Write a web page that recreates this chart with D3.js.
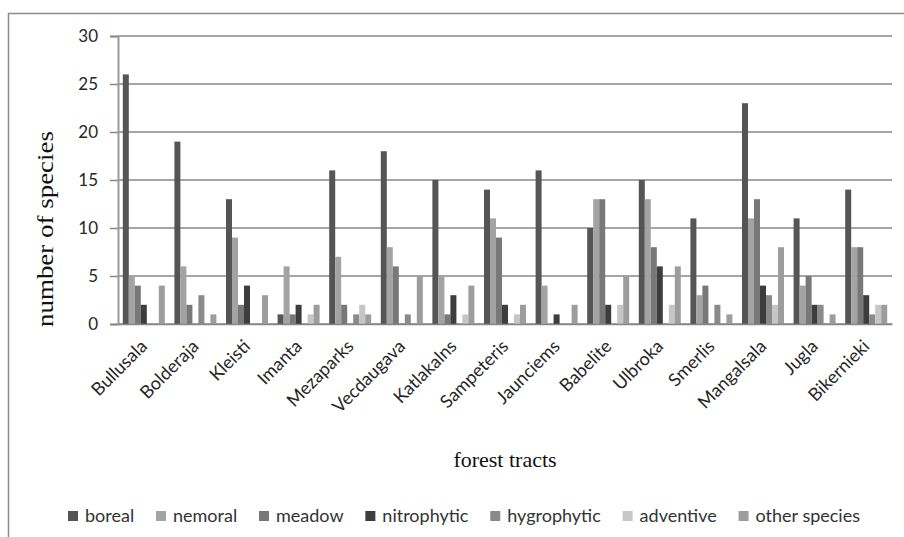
<!DOCTYPE html>
<html lang="en">
<head>
<meta charset="UTF-8">
<title>Species by forest tract</title>
<script src="https://d3js.org/d3.v7.min.js"></script>
<style>
  body { margin: 0; background: #fff; }
  svg { display: block; }
  .tick text { font-family: Lato, sans-serif; fill: #262626; }
</style>
</head>
<body>
<svg width="904" height="537"></svg>
<script>
// data
const tracts = ["Bullusala", "Bolderaja", "Kleisti", "Imanta", "Mezaparks", "Vecdaugava", "Katlakalns",
    "Sampeteris", "Jaunciems", "Babelite", "Ulbroka", "Smerlis", "Mangalsala", "Jugla", "Bikernieki"];
const seriesNames = ["boreal", "nemoral", "meadow", "nitrophytic", "hygrophytic", "adventive", "other species"];
const boreal      = [26, 19, 13, 1, 16, 18, 15, 14, 16, 10, 15, 11, 23, 11, 14];
const nemoral     = [5, 6, 9, 6, 7, 8, 5, 11, 4, 13, 13, 3, 11, 4, 8];
const meadow      = [4, 2, 2, 1, 2, 6, 1, 9, 0, 13, 8, 4, 13, 5, 8];
const nitrophytic = [2, 0, 4, 2, 0, 0, 3, 2, 1, 2, 6, 0, 4, 2, 3];
const hygrophytic = [0, 3, 0, 0, 1, 1, 0, 0, 0, 0, 0, 2, 3, 2, 1];
const adventive   = [0, 0, 0, 1, 2, 0, 1, 1, 0, 2, 2, 0, 2, 0, 2];
const otherSpecies = [4, 1, 3, 2, 1, 5, 4, 2, 2, 5, 6, 1, 8, 1, 2];
const yTicks = [0, 5, 10, 15, 20, 25, 30];

const allValues = [boreal, nemoral, meadow, nitrophytic, hygrophytic, adventive, otherSpecies];
const colors = ["#555555", "#a3a3a3", "#787878", "#3d3d3d", "#8a8a8a", "#c6c6c6", "#9d9d9d"];

const svg = d3.select("svg");
const plot = {left: 118, right: 892, top: 36, bottom: 324};

// outer frame (only left and top edges are visible)
svg.append("path")
    .attr("d", "M8.5,537V13.5H904")
    .attr("fill", "none")
    .attr("stroke", "#8c8c8c")
    .attr("stroke-width", 1.5);

const x0 = d3.scaleBand().domain(tracts).range([plot.left, plot.right]);
const x1 = d3.scaleBand().domain(seriesNames)
    .range([4.8, x0.bandwidth() - 4.8]);
const y = d3.scaleLinear().domain([0, 30]).range([plot.bottom, plot.top]);

// gridlines
svg.append("g")
    .selectAll("line")
    .data(yTicks)
    .join("line")
    .attr("x1", plot.left).attr("x2", plot.right)
    .attr("y1", d => y(d)).attr("y2", d => y(d))
    .attr("stroke", "#878787")
    .attr("stroke-width", 1.5);

// y axis
const yAxis = svg.append("g")
    .attr("transform", `translate(${plot.left},0)`)
    .call(d3.axisLeft(y).tickValues(yTicks).tickSize(8).tickPadding(12));
yAxis.select(".domain").attr("stroke", "#9a9a9a").attr("stroke-width", 2);
yAxis.selectAll(".tick line").attr("stroke", "#878787").attr("stroke-width", 1.5);
yAxis.selectAll(".tick text").attr("font-size", 17);

// bars
const rows = tracts.map((t, i) => ({tract: t, vals: seriesNames.map((s, j) => ({s, v: allValues[j][i]}))}));
svg.append("g")
    .selectAll("g")
    .data(rows)
    .join("g")
    .attr("transform", d => `translate(${x0(d.tract)},0)`)
    .selectAll("rect")
    .data(d => d.vals)
    .join("rect")
    .attr("x", d => x1(d.s))
    .attr("width", x1.bandwidth())
    .attr("y", d => y(d.v))
    .attr("height", d => y(0) - y(d.v))
    .attr("fill", d => colors[seriesNames.indexOf(d.s)]);

// x axis
const xAxis = svg.append("g")
    .attr("transform", `translate(0,${plot.bottom})`)
    .call(d3.axisBottom(x0).tickSize(0).tickPadding(0));
xAxis.select(".domain").attr("stroke", "#878787").attr("stroke-width", 1.5);
xAxis.selectAll(".tick text")
    .attr("font-size", 18)
    .attr("fill", "#111")
    .attr("text-anchor", "end")
    .attr("dy", "0.35em")
    .attr("transform", "translate(0,19) rotate(-45)");

// axis titles
svg.append("text")
    .attr("x", (plot.left + plot.right) / 2)
    .attr("y", 467)
    .attr("text-anchor", "middle")
    .attr("font-family", "Liberation Serif, serif")
    .attr("font-size", 22)
    .attr("fill", "#111")
    .text("forest tracts");

svg.append("text")
    .attr("transform", "translate(53,229) rotate(-90)")
    .attr("text-anchor", "middle")
    .attr("font-family", "Liberation Serif, serif")
    .attr("font-size", 23)
    .attr("textLength", 196)
    .attr("lengthAdjust", "spacingAndGlyphs")
    .attr("fill", "#111")
    .text("number of species");

// legend, laid out left to right between x=68 and x=860
const legend = svg.append("g").attr("font-family", "Lato, sans-serif").attr("font-size", 18);
const items = legend.selectAll("g")
    .data(seriesNames)
    .join("g");
items.append("rect")
    .attr("width", 10).attr("height", 10)
    .attr("y", 511)
    .attr("fill", (d, i) => colors[i]);
items.append("text")
    .attr("x", 17).attr("y", 522)
    .attr("fill", "#333")
    .text(d => d);
const widths = [];
items.select("text").each(function () { widths.push(this.getComputedTextLength()); });
const used = d3.sum(widths, w => w + 17);
const gap = (860 - 68 - used) / (seriesNames.length - 1);
let cx = 68;
items.attr("transform", (d, i) => {
    const t = `translate(${cx},0)`;
    cx += widths[i] + 17 + gap;
    return t;
});
</script>
</body>
</html>
